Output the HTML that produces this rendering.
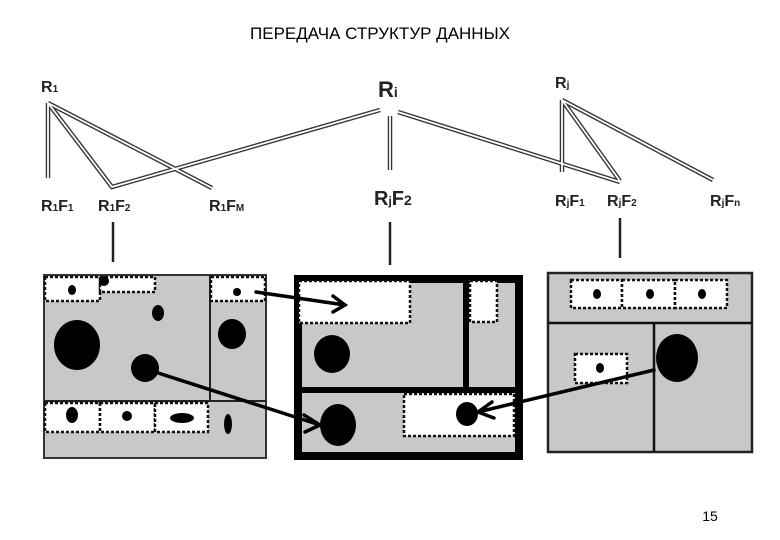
<!DOCTYPE html>
<html><head><meta charset="utf-8"><style>
body{margin:0;background:#fff}
svg{display:block}
text{font-family:"Liberation Sans",sans-serif;font-weight:bold;fill:#222}
.dl{stroke:#333;stroke-width:4.5;fill:none}
.dw{stroke:#fff;stroke-width:1.8;fill:none}
.ds{fill:#fff;stroke:#111;stroke-width:2.5;stroke-dasharray:3 2}
</style></head><body>
<svg width="780" height="540" viewBox="0 0 780 540">
<text x="380" y="39" text-anchor="middle" style="font-weight:normal;font-size:17px;fill:#000">ПЕРЕДАЧА СТРУКТУР ДАННЫХ</text>
<g font-size="16">
<text x="41" y="92">R<tspan font-size="10">1</tspan></text>
<text x="378" y="97" font-size="22">R<tspan font-size="14">i</tspan></text>
<text x="555" y="88">R<tspan font-size="10">j</tspan></text>
<text x="41" y="211">R<tspan font-size="10">1</tspan>F<tspan font-size="10">1</tspan></text>
<text x="98" y="211">R<tspan font-size="10">1</tspan>F<tspan font-size="10">2</tspan></text>
<text x="209" y="211">R<tspan font-size="10">1</tspan>F<tspan font-size="10">M</tspan></text>
<text x="374" y="205" font-size="20">R<tspan font-size="12">j</tspan>F<tspan font-size="14">2</tspan></text>
<text x="555" y="206">R<tspan font-size="10">j</tspan>F<tspan font-size="10">1</tspan></text>
<text x="607" y="206">R<tspan font-size="10">j</tspan>F<tspan font-size="10">2</tspan></text>
<text x="710" y="206">R<tspan font-size="10">j</tspan>F<tspan font-size="10">n</tspan></text>
</g>
<g id="L">
<path class="dl" d="M48,103V178M48,103L112,187L380,110M48,103L212,188M390,116V170M398,112L620,182M562,100V172M562,100L620,181M562,100L713,180"/>
<path class="dw" d="M48,103V178M48,103L112,187L380,110M48,103L212,188M390,116V170M398,112L620,182M562,100V172M562,100L620,181M562,100L713,180"/>
</g>
<path d="M113,222V262M390,222V265M620,218V258" stroke="#222" stroke-width="2.5"/>
<!-- left box -->
<rect x="44" y="275" width="222" height="183" fill="#c8c8c8" stroke="#333" stroke-width="2"/>
<path d="M210,275V401M44,401H266" stroke="#222" stroke-width="2"/>
<rect class="ds" x="45" y="277" width="55" height="24"/>
<rect class="ds" x="100" y="277" width="55" height="15"/>
<rect class="ds" x="211" y="277" width="54" height="24"/>
<rect class="ds" x="45" y="403" width="55" height="29"/>
<rect class="ds" x="100" y="403" width="55" height="29"/>
<rect class="ds" x="155" y="403" width="53" height="29"/>
<g fill="#000">
<ellipse cx="72" cy="290" rx="4" ry="5"/><ellipse cx="104" cy="281" rx="5" ry="5"/><ellipse cx="237" cy="292" rx="4" ry="4"/>
<ellipse cx="158" cy="313" rx="6" ry="8"/><ellipse cx="77" cy="345" rx="23" ry="25"/><ellipse cx="145" cy="368" rx="14" ry="14"/>
<ellipse cx="232" cy="334" rx="14" ry="15"/><ellipse cx="72" cy="415" rx="6" ry="8"/><ellipse cx="127" cy="416" rx="5" ry="5"/>
<ellipse cx="182" cy="418" rx="12" ry="5"/><ellipse cx="228" cy="424" rx="4" ry="10"/>
</g>
<!-- middle box -->
<rect x="298" y="279" width="221" height="177" fill="#c8c8c8" stroke="#000" stroke-width="8"/>
<path d="M298,390H519M466,279V390" stroke="#000" stroke-width="6"/>
<rect class="ds" x="299" y="281" width="111" height="42"/>
<rect class="ds" x="470" y="281" width="27" height="41"/>
<rect class="ds" x="404" y="394" width="110" height="42"/>
<g fill="#000"><ellipse cx="332" cy="354" rx="18" ry="19"/><ellipse cx="338" cy="425" rx="18" ry="21"/><ellipse cx="467" cy="414" rx="11" ry="12"/></g>
<!-- right box -->
<rect x="548" y="273" width="204" height="179" fill="#c8c8c8" stroke="#222" stroke-width="2.5"/>
<path d="M548,323H752M654,323V452" stroke="#111" stroke-width="2.5"/>
<rect class="ds" x="571" y="280" width="51" height="28"/>
<rect class="ds" x="622" y="280" width="53" height="28"/>
<rect class="ds" x="675" y="280" width="52" height="28"/>
<rect class="ds" x="575" y="354" width="52" height="29"/>
<g fill="#000"><ellipse cx="597" cy="294" rx="4" ry="5"/><ellipse cx="650" cy="294" rx="4" ry="5"/><ellipse cx="702" cy="294" rx="4" ry="5"/><ellipse cx="600" cy="368" rx="4" ry="5"/><ellipse cx="677" cy="358" rx="21" ry="24"/></g>
<!-- arrows -->
<g stroke="#000" stroke-width="3.5" fill="none" stroke-linecap="round">
<path d="M256,292L345,305M333,296L345,305L333,312"/>
<path d="M155,372L320,425M304,415L320,425L305,432"/>
<path d="M654,370L478,412M492,402L478,412L494,418"/>
</g>
<text x="710" y="521" text-anchor="middle" style="font-weight:normal;font-size:14px;fill:#000">15</text>
</svg>
</body></html>
